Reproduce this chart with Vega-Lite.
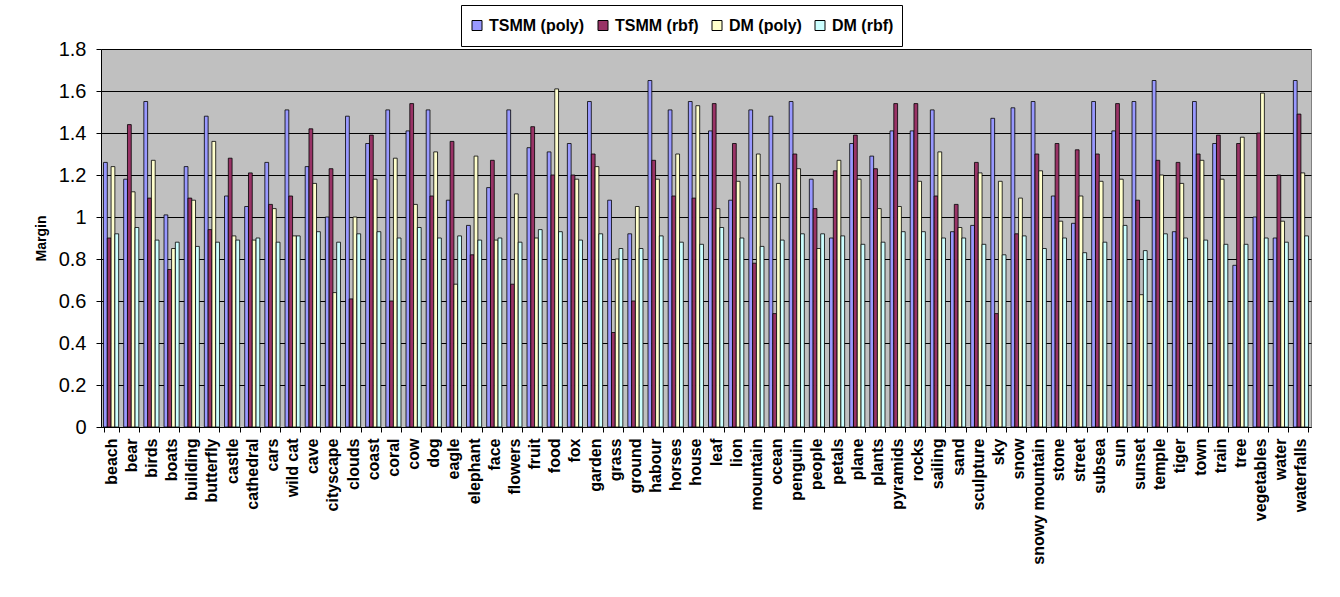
{
  "$schema": "https://vega.github.io/schema/vega-lite/v6.json",
  "autosize": {"type": "none"},
  "width": 1210,
  "height": 378,
  "padding": {"left": 101, "top": 49, "right": 29, "bottom": 170},
  "background": "white",
  "config": {
    "font": "Liberation Sans",
    "view": {"fill": "#C0C0C0", "stroke": "#808080", "strokeWidth": 1}
  },
  "data": {
    "values": [
      {"category": "beach", "series": "TSMM (poly)", "value": 1.26}, {"category": "beach", "series": "TSMM (rbf)", "value": 0.90}, {"category": "beach", "series": "DM (poly)", "value": 1.24}, {"category": "beach", "series": "DM (rbf)", "value": 0.92},
      {"category": "bear", "series": "TSMM (poly)", "value": 1.18}, {"category": "bear", "series": "TSMM (rbf)", "value": 1.44}, {"category": "bear", "series": "DM (poly)", "value": 1.12}, {"category": "bear", "series": "DM (rbf)", "value": 0.95},
      {"category": "birds", "series": "TSMM (poly)", "value": 1.55}, {"category": "birds", "series": "TSMM (rbf)", "value": 1.09}, {"category": "birds", "series": "DM (poly)", "value": 1.27}, {"category": "birds", "series": "DM (rbf)", "value": 0.89},
      {"category": "boats", "series": "TSMM (poly)", "value": 1.01}, {"category": "boats", "series": "TSMM (rbf)", "value": 0.75}, {"category": "boats", "series": "DM (poly)", "value": 0.85}, {"category": "boats", "series": "DM (rbf)", "value": 0.88},
      {"category": "building", "series": "TSMM (poly)", "value": 1.24}, {"category": "building", "series": "TSMM (rbf)", "value": 1.09}, {"category": "building", "series": "DM (poly)", "value": 1.08}, {"category": "building", "series": "DM (rbf)", "value": 0.86},
      {"category": "butterfly", "series": "TSMM (poly)", "value": 1.48}, {"category": "butterfly", "series": "TSMM (rbf)", "value": 0.94}, {"category": "butterfly", "series": "DM (poly)", "value": 1.36}, {"category": "butterfly", "series": "DM (rbf)", "value": 0.88},
      {"category": "castle", "series": "TSMM (poly)", "value": 1.10}, {"category": "castle", "series": "TSMM (rbf)", "value": 1.28}, {"category": "castle", "series": "DM (poly)", "value": 0.91}, {"category": "castle", "series": "DM (rbf)", "value": 0.89},
      {"category": "cathedral", "series": "TSMM (poly)", "value": 1.05}, {"category": "cathedral", "series": "TSMM (rbf)", "value": 1.21}, {"category": "cathedral", "series": "DM (poly)", "value": 0.89}, {"category": "cathedral", "series": "DM (rbf)", "value": 0.90},
      {"category": "cars", "series": "TSMM (poly)", "value": 1.26}, {"category": "cars", "series": "TSMM (rbf)", "value": 1.06}, {"category": "cars", "series": "DM (poly)", "value": 1.04}, {"category": "cars", "series": "DM (rbf)", "value": 0.88},
      {"category": "wild cat", "series": "TSMM (poly)", "value": 1.51}, {"category": "wild cat", "series": "TSMM (rbf)", "value": 1.10}, {"category": "wild cat", "series": "DM (poly)", "value": 0.91}, {"category": "wild cat", "series": "DM (rbf)", "value": 0.91},
      {"category": "cave", "series": "TSMM (poly)", "value": 1.24}, {"category": "cave", "series": "TSMM (rbf)", "value": 1.42}, {"category": "cave", "series": "DM (poly)", "value": 1.16}, {"category": "cave", "series": "DM (rbf)", "value": 0.93},
      {"category": "cityscape", "series": "TSMM (poly)", "value": 1.00}, {"category": "cityscape", "series": "TSMM (rbf)", "value": 1.23}, {"category": "cityscape", "series": "DM (poly)", "value": 0.64}, {"category": "cityscape", "series": "DM (rbf)", "value": 0.88},
      {"category": "clouds", "series": "TSMM (poly)", "value": 1.48}, {"category": "clouds", "series": "TSMM (rbf)", "value": 0.61}, {"category": "clouds", "series": "DM (poly)", "value": 1.00}, {"category": "clouds", "series": "DM (rbf)", "value": 0.92},
      {"category": "coast", "series": "TSMM (poly)", "value": 1.35}, {"category": "coast", "series": "TSMM (rbf)", "value": 1.39}, {"category": "coast", "series": "DM (poly)", "value": 1.18}, {"category": "coast", "series": "DM (rbf)", "value": 0.93},
      {"category": "coral", "series": "TSMM (poly)", "value": 1.51}, {"category": "coral", "series": "TSMM (rbf)", "value": 0.60}, {"category": "coral", "series": "DM (poly)", "value": 1.28}, {"category": "coral", "series": "DM (rbf)", "value": 0.90},
      {"category": "cow", "series": "TSMM (poly)", "value": 1.41}, {"category": "cow", "series": "TSMM (rbf)", "value": 1.54}, {"category": "cow", "series": "DM (poly)", "value": 1.06}, {"category": "cow", "series": "DM (rbf)", "value": 0.95},
      {"category": "dog", "series": "TSMM (poly)", "value": 1.51}, {"category": "dog", "series": "TSMM (rbf)", "value": 1.10}, {"category": "dog", "series": "DM (poly)", "value": 1.31}, {"category": "dog", "series": "DM (rbf)", "value": 0.90},
      {"category": "eagle", "series": "TSMM (poly)", "value": 1.08}, {"category": "eagle", "series": "TSMM (rbf)", "value": 1.36}, {"category": "eagle", "series": "DM (poly)", "value": 0.68}, {"category": "eagle", "series": "DM (rbf)", "value": 0.91},
      {"category": "elephant", "series": "TSMM (poly)", "value": 0.96}, {"category": "elephant", "series": "TSMM (rbf)", "value": 0.82}, {"category": "elephant", "series": "DM (poly)", "value": 1.29}, {"category": "elephant", "series": "DM (rbf)", "value": 0.89},
      {"category": "face", "series": "TSMM (poly)", "value": 1.14}, {"category": "face", "series": "TSMM (rbf)", "value": 1.27}, {"category": "face", "series": "DM (poly)", "value": 0.89}, {"category": "face", "series": "DM (rbf)", "value": 0.90},
      {"category": "flowers", "series": "TSMM (poly)", "value": 1.51}, {"category": "flowers", "series": "TSMM (rbf)", "value": 0.68}, {"category": "flowers", "series": "DM (poly)", "value": 1.11}, {"category": "flowers", "series": "DM (rbf)", "value": 0.88},
      {"category": "fruit", "series": "TSMM (poly)", "value": 1.33}, {"category": "fruit", "series": "TSMM (rbf)", "value": 1.43}, {"category": "fruit", "series": "DM (poly)", "value": 0.90}, {"category": "fruit", "series": "DM (rbf)", "value": 0.94},
      {"category": "food", "series": "TSMM (poly)", "value": 1.31}, {"category": "food", "series": "TSMM (rbf)", "value": 1.20}, {"category": "food", "series": "DM (poly)", "value": 1.61}, {"category": "food", "series": "DM (rbf)", "value": 0.93},
      {"category": "fox", "series": "TSMM (poly)", "value": 1.35}, {"category": "fox", "series": "TSMM (rbf)", "value": 1.20}, {"category": "fox", "series": "DM (poly)", "value": 1.18}, {"category": "fox", "series": "DM (rbf)", "value": 0.89},
      {"category": "garden", "series": "TSMM (poly)", "value": 1.55}, {"category": "garden", "series": "TSMM (rbf)", "value": 1.30}, {"category": "garden", "series": "DM (poly)", "value": 1.24}, {"category": "garden", "series": "DM (rbf)", "value": 0.92},
      {"category": "grass", "series": "TSMM (poly)", "value": 1.08}, {"category": "grass", "series": "TSMM (rbf)", "value": 0.45}, {"category": "grass", "series": "DM (poly)", "value": 0.80}, {"category": "grass", "series": "DM (rbf)", "value": 0.85},
      {"category": "ground", "series": "TSMM (poly)", "value": 0.92}, {"category": "ground", "series": "TSMM (rbf)", "value": 0.60}, {"category": "ground", "series": "DM (poly)", "value": 1.05}, {"category": "ground", "series": "DM (rbf)", "value": 0.85},
      {"category": "habour", "series": "TSMM (poly)", "value": 1.65}, {"category": "habour", "series": "TSMM (rbf)", "value": 1.27}, {"category": "habour", "series": "DM (poly)", "value": 1.18}, {"category": "habour", "series": "DM (rbf)", "value": 0.91},
      {"category": "horses", "series": "TSMM (poly)", "value": 1.51}, {"category": "horses", "series": "TSMM (rbf)", "value": 1.10}, {"category": "horses", "series": "DM (poly)", "value": 1.30}, {"category": "horses", "series": "DM (rbf)", "value": 0.88},
      {"category": "house", "series": "TSMM (poly)", "value": 1.55}, {"category": "house", "series": "TSMM (rbf)", "value": 1.09}, {"category": "house", "series": "DM (poly)", "value": 1.53}, {"category": "house", "series": "DM (rbf)", "value": 0.87},
      {"category": "leaf", "series": "TSMM (poly)", "value": 1.41}, {"category": "leaf", "series": "TSMM (rbf)", "value": 1.54}, {"category": "leaf", "series": "DM (poly)", "value": 1.04}, {"category": "leaf", "series": "DM (rbf)", "value": 0.95},
      {"category": "lion", "series": "TSMM (poly)", "value": 1.08}, {"category": "lion", "series": "TSMM (rbf)", "value": 1.35}, {"category": "lion", "series": "DM (poly)", "value": 1.17}, {"category": "lion", "series": "DM (rbf)", "value": 0.90},
      {"category": "mountain", "series": "TSMM (poly)", "value": 1.51}, {"category": "mountain", "series": "TSMM (rbf)", "value": 0.78}, {"category": "mountain", "series": "DM (poly)", "value": 1.30}, {"category": "mountain", "series": "DM (rbf)", "value": 0.86},
      {"category": "ocean", "series": "TSMM (poly)", "value": 1.48}, {"category": "ocean", "series": "TSMM (rbf)", "value": 0.54}, {"category": "ocean", "series": "DM (poly)", "value": 1.16}, {"category": "ocean", "series": "DM (rbf)", "value": 0.89},
      {"category": "penguin", "series": "TSMM (poly)", "value": 1.55}, {"category": "penguin", "series": "TSMM (rbf)", "value": 1.30}, {"category": "penguin", "series": "DM (poly)", "value": 1.23}, {"category": "penguin", "series": "DM (rbf)", "value": 0.92},
      {"category": "people", "series": "TSMM (poly)", "value": 1.18}, {"category": "people", "series": "TSMM (rbf)", "value": 1.04}, {"category": "people", "series": "DM (poly)", "value": 0.85}, {"category": "people", "series": "DM (rbf)", "value": 0.92},
      {"category": "petals", "series": "TSMM (poly)", "value": 0.90}, {"category": "petals", "series": "TSMM (rbf)", "value": 1.22}, {"category": "petals", "series": "DM (poly)", "value": 1.27}, {"category": "petals", "series": "DM (rbf)", "value": 0.91},
      {"category": "plane", "series": "TSMM (poly)", "value": 1.35}, {"category": "plane", "series": "TSMM (rbf)", "value": 1.39}, {"category": "plane", "series": "DM (poly)", "value": 1.18}, {"category": "plane", "series": "DM (rbf)", "value": 0.87},
      {"category": "plants", "series": "TSMM (poly)", "value": 1.29}, {"category": "plants", "series": "TSMM (rbf)", "value": 1.23}, {"category": "plants", "series": "DM (poly)", "value": 1.04}, {"category": "plants", "series": "DM (rbf)", "value": 0.88},
      {"category": "pyramids", "series": "TSMM (poly)", "value": 1.41}, {"category": "pyramids", "series": "TSMM (rbf)", "value": 1.54}, {"category": "pyramids", "series": "DM (poly)", "value": 1.05}, {"category": "pyramids", "series": "DM (rbf)", "value": 0.93},
      {"category": "rocks", "series": "TSMM (poly)", "value": 1.41}, {"category": "rocks", "series": "TSMM (rbf)", "value": 1.54}, {"category": "rocks", "series": "DM (poly)", "value": 1.17}, {"category": "rocks", "series": "DM (rbf)", "value": 0.93},
      {"category": "sailing", "series": "TSMM (poly)", "value": 1.51}, {"category": "sailing", "series": "TSMM (rbf)", "value": 1.10}, {"category": "sailing", "series": "DM (poly)", "value": 1.31}, {"category": "sailing", "series": "DM (rbf)", "value": 0.90},
      {"category": "sand", "series": "TSMM (poly)", "value": 0.93}, {"category": "sand", "series": "TSMM (rbf)", "value": 1.06}, {"category": "sand", "series": "DM (poly)", "value": 0.95}, {"category": "sand", "series": "DM (rbf)", "value": 0.90},
      {"category": "sculpture", "series": "TSMM (poly)", "value": 0.96}, {"category": "sculpture", "series": "TSMM (rbf)", "value": 1.26}, {"category": "sculpture", "series": "DM (poly)", "value": 1.21}, {"category": "sculpture", "series": "DM (rbf)", "value": 0.87},
      {"category": "sky", "series": "TSMM (poly)", "value": 1.47}, {"category": "sky", "series": "TSMM (rbf)", "value": 0.54}, {"category": "sky", "series": "DM (poly)", "value": 1.17}, {"category": "sky", "series": "DM (rbf)", "value": 0.82},
      {"category": "snow", "series": "TSMM (poly)", "value": 1.52}, {"category": "snow", "series": "TSMM (rbf)", "value": 0.92}, {"category": "snow", "series": "DM (poly)", "value": 1.09}, {"category": "snow", "series": "DM (rbf)", "value": 0.91},
      {"category": "snowy mountain", "series": "TSMM (poly)", "value": 1.55}, {"category": "snowy mountain", "series": "TSMM (rbf)", "value": 1.30}, {"category": "snowy mountain", "series": "DM (poly)", "value": 1.22}, {"category": "snowy mountain", "series": "DM (rbf)", "value": 0.85},
      {"category": "stone", "series": "TSMM (poly)", "value": 1.10}, {"category": "stone", "series": "TSMM (rbf)", "value": 1.35}, {"category": "stone", "series": "DM (poly)", "value": 0.98}, {"category": "stone", "series": "DM (rbf)", "value": 0.90},
      {"category": "street", "series": "TSMM (poly)", "value": 0.97}, {"category": "street", "series": "TSMM (rbf)", "value": 1.32}, {"category": "street", "series": "DM (poly)", "value": 1.10}, {"category": "street", "series": "DM (rbf)", "value": 0.83},
      {"category": "subsea", "series": "TSMM (poly)", "value": 1.55}, {"category": "subsea", "series": "TSMM (rbf)", "value": 1.30}, {"category": "subsea", "series": "DM (poly)", "value": 1.17}, {"category": "subsea", "series": "DM (rbf)", "value": 0.88},
      {"category": "sun", "series": "TSMM (poly)", "value": 1.41}, {"category": "sun", "series": "TSMM (rbf)", "value": 1.54}, {"category": "sun", "series": "DM (poly)", "value": 1.18}, {"category": "sun", "series": "DM (rbf)", "value": 0.96},
      {"category": "sunset", "series": "TSMM (poly)", "value": 1.55}, {"category": "sunset", "series": "TSMM (rbf)", "value": 1.08}, {"category": "sunset", "series": "DM (poly)", "value": 0.63}, {"category": "sunset", "series": "DM (rbf)", "value": 0.84},
      {"category": "temple", "series": "TSMM (poly)", "value": 1.65}, {"category": "temple", "series": "TSMM (rbf)", "value": 1.27}, {"category": "temple", "series": "DM (poly)", "value": 1.20}, {"category": "temple", "series": "DM (rbf)", "value": 0.92},
      {"category": "tiger", "series": "TSMM (poly)", "value": 0.93}, {"category": "tiger", "series": "TSMM (rbf)", "value": 1.26}, {"category": "tiger", "series": "DM (poly)", "value": 1.16}, {"category": "tiger", "series": "DM (rbf)", "value": 0.90},
      {"category": "town", "series": "TSMM (poly)", "value": 1.55}, {"category": "town", "series": "TSMM (rbf)", "value": 1.30}, {"category": "town", "series": "DM (poly)", "value": 1.27}, {"category": "town", "series": "DM (rbf)", "value": 0.89},
      {"category": "train", "series": "TSMM (poly)", "value": 1.35}, {"category": "train", "series": "TSMM (rbf)", "value": 1.39}, {"category": "train", "series": "DM (poly)", "value": 1.18}, {"category": "train", "series": "DM (rbf)", "value": 0.87},
      {"category": "tree", "series": "TSMM (poly)", "value": 0.77}, {"category": "tree", "series": "TSMM (rbf)", "value": 1.35}, {"category": "tree", "series": "DM (poly)", "value": 1.38}, {"category": "tree", "series": "DM (rbf)", "value": 0.87},
      {"category": "vegetables", "series": "TSMM (poly)", "value": 1.00}, {"category": "vegetables", "series": "TSMM (rbf)", "value": 1.40}, {"category": "vegetables", "series": "DM (poly)", "value": 1.59}, {"category": "vegetables", "series": "DM (rbf)", "value": 0.90},
      {"category": "water", "series": "TSMM (poly)", "value": 0.90}, {"category": "water", "series": "TSMM (rbf)", "value": 1.20}, {"category": "water", "series": "DM (poly)", "value": 0.98}, {"category": "water", "series": "DM (rbf)", "value": 0.88},
      {"category": "waterfalls", "series": "TSMM (poly)", "value": 1.65}, {"category": "waterfalls", "series": "TSMM (rbf)", "value": 1.49}, {"category": "waterfalls", "series": "DM (poly)", "value": 1.21}, {"category": "waterfalls", "series": "DM (rbf)", "value": 0.91}
    ]
  },
  "mark": {"type": "bar", "stroke": "#000000", "strokeWidth": 0.8},
  "encoding": {
    "x": {
      "field": "category",
      "type": "nominal",
      "sort": null,
      "scale": {"paddingInner": 0.25, "paddingOuter": 0.125},
      "axis": {
        "title": null,
        "labelAngle": -90,
        "labelAlign": "right",
        "labelBaseline": "middle",
        "labelFont": "Liberation Sans",
        "labelFontSize": 16,
        "labelFontWeight": "bold",
        "labelColor": "#000000",
        "labelPadding": 6,
        "labelLimit": 300,
        "labelOverlap": false,
        "tickBand": "extent",
        "tickSize": 5,
        "tickColor": "#000000",
        "domainColor": "#000000",
        "grid": false
      }
    },
    "xOffset": {"field": "series", "type": "nominal", "sort": ["TSMM (poly)", "TSMM (rbf)", "DM (poly)", "DM (rbf)"], "scale": {"paddingInner": 0, "paddingOuter": 0}},
    "y": {
      "field": "value",
      "type": "quantitative",
      "scale": {"domain": [0, 1.8], "nice": false, "zero": true},
      "axis": {
        "title": "Margin",
        "titleFont": "Liberation Sans",
        "titleFontSize": 14,
        "titleFontWeight": "bold",
        "titleColor": "#000000",
        "titlePadding": 10,
        "values": [0, 0.2, 0.4, 0.6, 0.8, 1, 1.2, 1.4, 1.6, 1.8],
        "format": "~g",
        "labelFont": "Liberation Sans",
        "labelFontSize": 20,
        "labelColor": "#000000",
        "labelPadding": 10,
        "tickSize": 5,
        "tickColor": "#000000",
        "domainColor": "#000000",
        "grid": true,
        "gridColor": "#000000",
        "gridWidth": 1
      }
    },
    "color": {
      "field": "series",
      "type": "nominal",
      "scale": {
        "domain": ["TSMM (poly)", "TSMM (rbf)", "DM (poly)", "DM (rbf)"],
        "range": ["#9999FF", "#993366", "#FFFFCC", "#CCFFFF"]
      },
      "legend": {
        "title": null,
        "orient": "none",
        "legendX": 360,
        "legendY": -44,
        "direction": "horizontal",
        "columns": 4,
        "symbolType": "square",
        "symbolSize": 100,
        "symbolStrokeColor": "#000000",
        "symbolStrokeWidth": 1,
        "labelFont": "Liberation Sans",
        "labelFontSize": 16,
        "labelFontWeight": "bold",
        "labelColor": "#000000",
        "labelOffset": 4,
        "columnPadding": 10,
        "padding": 8,
        "clipHeight": 25,
        "strokeColor": "#000000",
        "fillColor": "#FFFFFF"
      }
    }
  }
}
